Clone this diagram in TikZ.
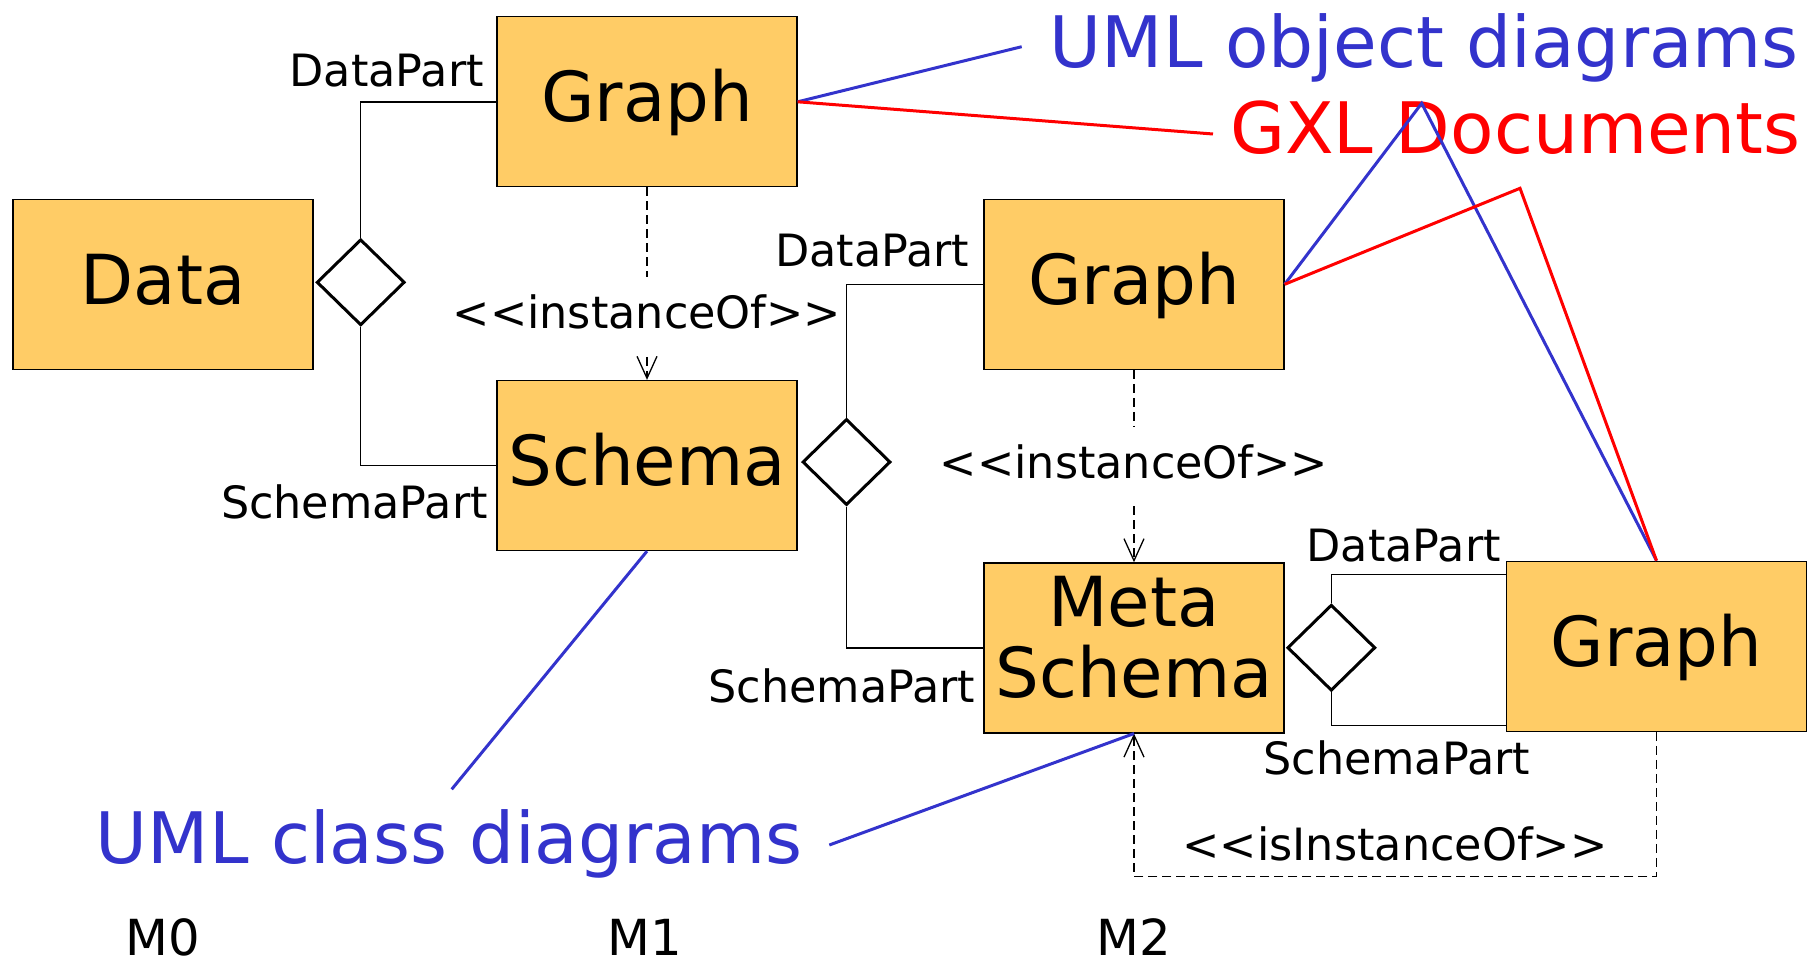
\documentclass[tikz,border=0pt]{standalone}
\usepackage{fontspec}
\setmainfont{DejaVu Sans}
\usetikzlibrary{shapes.geometric,arrows.meta,calc}

\definecolor{boxfill}{RGB}{255,204,102}
\definecolor{umlblue}{RGB}{51,51,204}
\definecolor{gxlred}{RGB}{255,0,0}

\tikzset{
  classbox/.style={draw, line width=1.3pt, fill=boxfill, minimum width=300pt,
    minimum height=170pt, inner sep=0pt, font=\fontsize{69}{72}\selectfont,
    text height=50pt, text depth=10pt},
  boxtext/.style={inner sep=0pt, anchor=base, font=\fontsize{69}{72}\selectfont},
  composite/.style={diamond, draw, line width=3pt, fill=white, inner sep=0pt,
    minimum width=88pt, minimum height=86pt},
  role/.style={inner sep=0pt, font=\fontsize{44.5}{48}\selectfont},
  stereo/.style={inner xsep=0pt, inner ysep=17pt, anchor=base,
    text height=34pt, text depth=11pt, font=\fontsize{44.5}{48}\selectfont},
  note/.style={inner sep=0pt, font=\fontsize{71}{75}\selectfont},
  level/.style={inner sep=0pt, anchor=base, font=\fontsize{49.7}{52}\selectfont},
  part/.style={line width=1.5pt},
  depend/.style={line width=1.3pt, dash pattern=on 9pt off 5pt},
  openhead/.style={-{Straight Barb[length=22pt,width=20pt,line width=1.3pt]}},
  bluelink/.style={umlblue, line width=3pt},
  redlink/.style={gxlred, line width=3pt},
}

\begin{document}
\begin{tikzpicture}[x=1pt, y=-1pt]
\useasboundingbox (0,0) rectangle (1814,964);

% class boxes
\node[classbox] (data) at (163,284.2) {Data};
\node[classbox] (g1) at (647,101.8) {Graph};
\node[classbox] (s1) at (647,465.5) {Schema};
\node[classbox] (g2) at (1134,284.3) {Graph};
\node[classbox] (ms) at (1134,647.9) {};
\node[boxtext] (msa) at (1134,626.4) {Meta};
\node[boxtext] (msb) at (1134,697.9) {Schema};
\node[classbox] (g3) at (1656.5,646.3) {Graph};

% composition diamonds
\node[composite] (d1) at (360.7,282.3) {};
\node[composite] (d2) at (846.5,462) {};
\node[composite] (d3) at (1331.3,647.7) {};

% composition parts
\draw[part] (d1.north) |- (g1.west);
\draw[part] (d1.south) |- (s1.west);
\draw[part] (d2.north) |- (g2.west);
\draw[part] (d2.south) |- (ms.west);
\coordinate (g3dp) at ($(g3.north west)+(0,14)$);
\coordinate (g3sp) at ($(g3.south west)+(0,-6.3)$);
\draw[part] (d3.north) |- (g3dp);
\draw[part] (d3.south) |- (g3sp);

% role names
\node[role, anchor=base east] (dp1) at (484,86.8) {DataPart};
\node[role, anchor=base east] (sp1) at (488,518) {SchemaPart};
\node[role, anchor=base east] (dp2) at (969.4,266.8) {DataPart};
\node[role, anchor=base east] (sp2) at (975.5,702) {SchemaPart};
\node[role, anchor=base east] (dp3) at (1501,561) {DataPart};
\node[role, anchor=base] (sp3) at (1396.7,774) {SchemaPart};

% instance-of dependencies
\node[stereo] (io1) at (647,328.6) {<{}<instanceOf>{}>};
\draw[depend] (g1.south) -- (io1.north);
\draw[depend, openhead] (io1.south) -- (s1.north);

\node[stereo] (io2) at (1134,478.2) {<{}<instanceOf>{}>};
\draw[depend] (g2.south) -- (io2.north);
\draw[depend, openhead] (io2.south) -- (ms.north);

\node[role, anchor=base] (iio) at (1395,860) {<{}<isInstanceOf>{}>};
\coordinate (iib) at (1395,876.7);
\draw[depend, openhead] (g3.south) |- (iib) -| (ms.south);

% notation notes
\node[note, anchor=base east, text=umlblue] (uod) at (1799,67) {UML object diagrams};
\node[note, anchor=base east, text=gxlred] (gxl) at (1801,153) {GXL Documents};
\node[note, anchor=base west, text=umlblue] (ucd) at (95.6,863.3) {UML class diagrams};

% levels
\node[level] (m0) at (163,955) {M0};
\node[level] (m1) at (645,955) {M1};
\node[level] (m2) at (1134,955) {M2};

% note pointers
\coordinate (uodtip) at (1021.7,46.7);
\coordinate (uodpeak) at (1421.7,103.3);
\coordinate (gxltip) at (1213,134);
\coordinate (gxlpeak) at (1520,188.3);
\coordinate (ucdtipA) at (451.7,789.3);
\coordinate (ucdtipB) at (829.3,845);

\draw[bluelink] (g1.east) -- (uodtip);
\draw[bluelink] (g2.east) -- (uodpeak) -- (g3.north);
\draw[bluelink] (s1.south) -- (ucdtipA);
\draw[bluelink] (ms.south) -- (ucdtipB);
\draw[redlink] (g1.east) -- (gxltip);
\draw[redlink] (g2.east) -- (gxlpeak) -- (g3.north);
\end{tikzpicture}
\end{document}
